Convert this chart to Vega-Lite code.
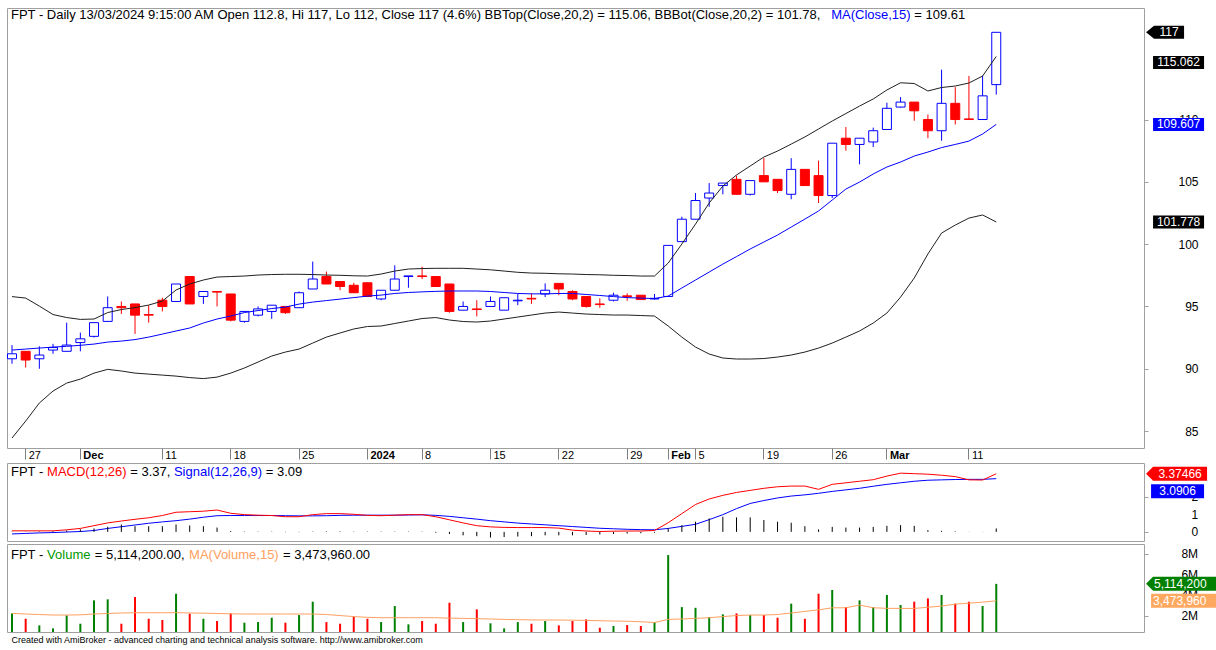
{
"$schema": "https://vega.github.io/schema/vega-lite/v6.json",
"background": "#ffffff",
"padding": {"left": 6, "top": 7, "right": 0, "bottom": 0},
"spacing": 1,
"config": {
  "view": {"stroke": "#a0a0a0", "strokeWidth": 1},
  "axis": {"labelFont": "Liberation Sans", "titleFont": "Liberation Sans", "labelColor": "#000000", "tickColor": "#a0a0a0", "domain": false, "grid": false, "labelOverlap": false},
  "text": {"font": "Liberation Sans"}
},
"datasets": {
"px": [
{"d":"2023-11-24","o":90.8,"h":91.9,"l":90.4,"c":91.2,"bt":95.79,"bb":84.44,"ma":91.5,"m":0.06,"s":-0.12,"hs":0.02,"v":2260000,"vm":2260000},
{"d":"2023-11-27","o":91.4,"h":91.4,"l":90.1,"c":90.7,"bt":95.67,"bb":85.8,"ma":91.58,"m":0.06,"s":-0.09,"hs":0.02,"v":1740000,"vm":2200000},
{"d":"2023-11-28","o":90.8,"h":91.8,"l":90.0,"c":91.1,"bt":95.03,"bb":87.25,"ma":91.66,"m":0.06,"s":-0.06,"hs":0.03,"v":1100000,"vm":2150000},
{"d":"2023-11-29","o":91.5,"h":92.0,"l":91.2,"c":91.7,"bt":94.35,"bb":88.21,"ma":91.74,"m":0.06,"s":-0.04,"hs":0.04,"v":810000,"vm":2100000},
{"d":"2023-11-30","o":91.4,"h":93.7,"l":91.4,"c":91.9,"bt":94.11,"bb":88.85,"ma":91.8,"m":0.12,"s":-0.01,"hs":0.08,"v":2070000,"vm":2100000},
{"d":"2023-12-01","o":92.1,"h":92.9,"l":91.4,"c":92.4,"bt":93.96,"bb":89.17,"ma":91.88,"m":0.2,"s":0.02,"hs":0.15,"v":1260000,"vm":2120000},
{"d":"2023-12-04","o":92.6,"h":93.7,"l":92.5,"c":93.7,"bt":93.99,"bb":89.65,"ma":91.98,"m":0.36,"s":0.08,"hs":0.2,"v":3520000,"vm":2200000},
{"d":"2023-12-05","o":93.8,"h":95.8,"l":93.8,"c":94.9,"bt":94.51,"bb":89.95,"ma":92.14,"m":0.52,"s":0.2,"hs":0.3,"v":3620000,"vm":2250000},
{"d":"2023-12-06","o":95.0,"h":95.4,"l":94.4,"c":94.9,"bt":94.75,"bb":89.82,"ma":92.22,"m":0.63,"s":0.3,"hs":0.43,"v":1260000,"vm":2300000},
{"d":"2023-12-07","o":95.2,"h":95.2,"l":92.8,"c":94.3,"bt":94.91,"bb":89.65,"ma":92.34,"m":0.73,"s":0.4,"hs":0.33,"v":3840000,"vm":2320000},
{"d":"2023-12-08","o":94.35,"h":95.1,"l":93.7,"c":94.3,"bt":95.11,"bb":89.57,"ma":92.54,"m":0.82,"s":0.5,"hs":0.33,"v":1740000,"vm":2320000},
{"d":"2023-12-11","o":95.5,"h":95.7,"l":94.6,"c":95.0,"bt":95.43,"bb":89.49,"ma":92.78,"m":0.95,"s":0.58,"hs":0.33,"v":1620000,"vm":2320000},
{"d":"2023-12-12","o":95.4,"h":96.8,"l":95.4,"c":96.8,"bt":96.32,"bb":89.41,"ma":93.03,"m":1.14,"s":0.65,"hs":0.43,"v":4160000,"vm":2330000},
{"d":"2023-12-13","o":97.4,"h":97.4,"l":95.2,"c":95.2,"bt":96.8,"bb":89.29,"ma":93.27,"m":1.17,"s":0.74,"hs":0.37,"v":2230000,"vm":2300000},
{"d":"2023-12-14","o":95.8,"h":96.2,"l":95.2,"c":96.2,"bt":97.12,"bb":89.21,"ma":93.67,"m":1.2,"s":0.85,"hs":0.33,"v":1740000,"vm":2280000},
{"d":"2023-12-15","o":96.2,"h":96.2,"l":95.0,"c":96.15,"bt":97.36,"bb":89.33,"ma":93.99,"m":1.27,"s":0.94,"hs":0.25,"v":1520000,"vm":2250000},
{"d":"2023-12-18","o":96.0,"h":96.0,"l":93.8,"c":93.9,"bt":97.4,"bb":89.65,"ma":94.23,"m":1.08,"s":0.95,"hs":0.05,"v":2260000,"vm":2220000},
{"d":"2023-12-19","o":93.8,"h":94.6,"l":93.7,"c":94.6,"bt":97.44,"bb":90.06,"ma":94.51,"m":1.0,"s":0.95,"hs":0.02,"v":1360000,"vm":2200000},
{"d":"2023-12-20","o":94.3,"h":95.0,"l":94.2,"c":94.8,"bt":97.52,"bb":90.54,"ma":94.67,"m":0.97,"s":0.95,"hs":0.02,"v":1420000,"vm":2200000},
{"d":"2023-12-21","o":94.6,"h":95.1,"l":94.0,"c":95.1,"bt":97.56,"bb":91.02,"ma":94.83,"m":0.95,"s":0.95,"hs":0.02,"v":1840000,"vm":2200000},
{"d":"2023-12-22","o":95.0,"h":95.0,"l":94.4,"c":94.5,"bt":97.58,"bb":91.34,"ma":94.95,"m":0.88,"s":0.94,"hs":-0.02,"v":1360000,"vm":2200000},
{"d":"2023-12-25","o":94.9,"h":96.2,"l":94.9,"c":96.1,"bt":97.58,"bb":91.58,"ma":95.19,"m":0.88,"s":0.93,"hs":-0.02,"v":2100000,"vm":2200000},
{"d":"2023-12-26","o":96.4,"h":98.6,"l":96.4,"c":97.2,"bt":97.56,"bb":92.06,"ma":95.35,"m":1.0,"s":0.93,"hs":0.02,"v":3390000,"vm":2200000},
{"d":"2023-12-27","o":97.4,"h":97.8,"l":96.8,"c":96.8,"bt":97.52,"bb":92.54,"ma":95.47,"m":1.06,"s":0.94,"hs":0.03,"v":1420000,"vm":2150000},
{"d":"2023-12-28","o":97.0,"h":97.0,"l":96.3,"c":96.6,"bt":97.5,"bb":92.87,"ma":95.59,"m":1.06,"s":0.96,"hs":0.03,"v":1260000,"vm":2050000},
{"d":"2023-12-29","o":96.7,"h":96.9,"l":96.1,"c":96.1,"bt":97.46,"bb":93.19,"ma":95.71,"m":1.02,"s":0.97,"hs":0.02,"v":1940000,"vm":1950000},
{"d":"2024-01-02","o":96.9,"h":96.9,"l":95.8,"c":95.8,"bt":97.44,"bb":93.39,"ma":95.83,"m":0.96,"s":0.97,"hs":0.02,"v":1740000,"vm":1880000},
{"d":"2024-01-03","o":95.6,"h":96.3,"l":95.5,"c":96.3,"bt":97.6,"bb":93.43,"ma":95.91,"m":0.94,"s":0.97,"hs":0.02,"v":1420000,"vm":1840000},
{"d":"2024-01-04","o":96.3,"h":98.3,"l":96.3,"c":97.2,"bt":97.84,"bb":93.63,"ma":96.04,"m":0.97,"s":0.97,"hs":0.02,"v":2970000,"vm":1840000},
{"d":"2024-01-05","o":97.4,"h":97.45,"l":96.5,"c":97.45,"bt":98.0,"bb":93.83,"ma":96.12,"m":1.0,"s":0.98,"hs":0.02,"v":1200000,"vm":1840000},
{"d":"2024-01-08","o":97.45,"h":98.2,"l":97.2,"c":97.4,"bt":98.04,"bb":94.03,"ma":96.17,"m":1.0,"s":0.99,"hs":0.02,"v":1520000,"vm":1840000},
{"d":"2024-01-09","o":97.4,"h":97.4,"l":96.6,"c":96.6,"bt":98.06,"bb":94.11,"ma":96.21,"m":0.88,"s":0.96,"hs":-0.05,"v":1260000,"vm":1840000},
{"d":"2024-01-10","o":96.8,"h":96.8,"l":94.5,"c":94.6,"bt":98.06,"bb":93.91,"ma":96.24,"m":0.7,"s":0.9,"hs":-0.12,"v":3290000,"vm":1800000},
{"d":"2024-01-11","o":94.7,"h":95.4,"l":94.7,"c":95.0,"bt":98.06,"bb":93.79,"ma":96.24,"m":0.52,"s":0.82,"hs":-0.2,"v":1420000,"vm":1780000},
{"d":"2024-01-12","o":94.8,"h":95.5,"l":94.2,"c":94.75,"bt":98.0,"bb":93.75,"ma":96.24,"m":0.36,"s":0.74,"hs":-0.25,"v":2650000,"vm":1750000},
{"d":"2024-01-15","o":95.0,"h":95.8,"l":95.0,"c":95.4,"bt":97.94,"bb":93.83,"ma":96.2,"m":0.29,"s":0.65,"hs":-0.33,"v":1300000,"vm":1720000},
{"d":"2024-01-16","o":94.7,"h":95.7,"l":94.7,"c":95.7,"bt":97.84,"bb":93.99,"ma":96.12,"m":0.26,"s":0.58,"hs":-0.3,"v":810000,"vm":1680000},
{"d":"2024-01-17","o":95.45,"h":96.0,"l":95.1,"c":95.5,"bt":97.74,"bb":94.15,"ma":96.04,"m":0.25,"s":0.51,"hs":-0.27,"v":1420000,"vm":1650000},
{"d":"2024-01-18","o":95.65,"h":96.05,"l":95.2,"c":95.6,"bt":97.68,"bb":94.31,"ma":96.01,"m":0.25,"s":0.46,"hs":-0.25,"v":1260000,"vm":1630000},
{"d":"2024-01-19","o":96.0,"h":96.85,"l":95.75,"c":96.3,"bt":97.66,"bb":94.47,"ma":96.01,"m":0.25,"s":0.41,"hs":-0.2,"v":1520000,"vm":1620000},
{"d":"2024-01-22","o":96.85,"h":96.85,"l":95.9,"c":96.4,"bt":97.62,"bb":94.55,"ma":96.04,"m":0.22,"s":0.36,"hs":-0.2,"v":1100000,"vm":1620000},
{"d":"2024-01-23","o":96.2,"h":96.3,"l":95.5,"c":95.6,"bt":97.6,"bb":94.47,"ma":96.04,"m":0.1,"s":0.31,"hs":-0.2,"v":1520000,"vm":1600000},
{"d":"2024-01-24","o":95.8,"h":95.8,"l":94.9,"c":95.0,"bt":97.56,"bb":94.39,"ma":95.96,"m":0.05,"s":0.26,"hs":-0.18,"v":1680000,"vm":1580000},
{"d":"2024-01-25","o":95.2,"h":95.65,"l":94.9,"c":95.15,"bt":97.54,"bb":94.35,"ma":95.88,"m":0.02,"s":0.21,"hs":-0.15,"v":870000,"vm":1550000},
{"d":"2024-01-26","o":95.5,"h":96.1,"l":95.4,"c":95.9,"bt":97.5,"bb":94.31,"ma":95.79,"m":0.04,"s":0.18,"hs":-0.12,"v":1040000,"vm":1520000},
{"d":"2024-01-29","o":95.85,"h":96.05,"l":95.45,"c":95.8,"bt":97.48,"bb":94.31,"ma":95.71,"m":0.05,"s":0.15,"hs":-0.1,"v":1130000,"vm":1500000},
{"d":"2024-01-30","o":95.9,"h":95.9,"l":95.55,"c":95.55,"bt":97.44,"bb":94.27,"ma":95.67,"m":0.05,"s":0.13,"hs":-0.08,"v":1040000,"vm":1450000},
{"d":"2024-01-31","o":95.6,"h":96.0,"l":95.55,"c":95.65,"bt":97.44,"bb":94.23,"ma":95.63,"m":0.08,"s":0.12,"hs":-0.05,"v":1420000,"vm":1380000},
{"d":"2024-02-01","o":95.8,"h":99.9,"l":95.8,"c":99.9,"bt":98.48,"bb":93.43,"ma":95.83,"m":0.53,"s":0.2,"hs":0.2,"v":7900000,"vm":1680000},
{"d":"2024-02-02","o":100.2,"h":102.2,"l":100.2,"c":102.0,"bt":100.01,"bb":92.54,"ma":96.48,"m":1.06,"s":0.32,"hs":0.39,"v":2870000,"vm":1720000},
{"d":"2024-02-05","o":102.0,"h":104.1,"l":102.0,"c":103.5,"bt":101.61,"bb":91.74,"ma":97.12,"m":1.59,"s":0.44,"hs":0.59,"v":2800000,"vm":1780000},
{"d":"2024-02-06","o":103.7,"h":104.9,"l":103.0,"c":104.1,"bt":103.3,"bb":91.18,"ma":97.76,"m":1.91,"s":0.71,"hs":0.78,"v":1900000,"vm":1840000},
{"d":"2024-02-07","o":104.7,"h":104.9,"l":104.0,"c":104.9,"bt":104.66,"bb":90.86,"ma":98.4,"m":2.12,"s":1.0,"hs":0.88,"v":2170000,"vm":1950000},
{"d":"2024-02-15","o":105.2,"h":105.5,"l":104.0,"c":104.0,"bt":105.55,"bb":90.78,"ma":99.0,"m":2.29,"s":1.35,"hs":0.84,"v":2260000,"vm":2050000},
{"d":"2024-02-16","o":104.0,"h":105.1,"l":103.9,"c":105.1,"bt":106.27,"bb":90.78,"ma":99.61,"m":2.41,"s":1.65,"hs":0.84,"v":2100000,"vm":2100000},
{"d":"2024-02-19","o":105.5,"h":106.9,"l":105.0,"c":105.0,"bt":106.99,"bb":90.82,"ma":100.17,"m":2.53,"s":1.82,"hs":0.69,"v":2100000,"vm":2100000},
{"d":"2024-02-20","o":105.2,"h":105.2,"l":104.1,"c":104.3,"bt":107.47,"bb":90.94,"ma":100.73,"m":2.62,"s":1.97,"hs":0.59,"v":1840000,"vm":2150000},
{"d":"2024-02-21","o":104.0,"h":106.9,"l":103.6,"c":106.0,"bt":108.03,"bb":91.1,"ma":101.37,"m":2.66,"s":2.08,"hs":0.53,"v":3200000,"vm":2300000},
{"d":"2024-02-22","o":106.0,"h":106.0,"l":104.7,"c":104.7,"bt":108.6,"bb":91.34,"ma":102.01,"m":2.66,"s":2.15,"hs":0.33,"v":1740000,"vm":2450000},
{"d":"2024-02-23","o":105.5,"h":106.7,"l":103.3,"c":103.9,"bt":109.24,"bb":91.66,"ma":102.66,"m":2.47,"s":2.24,"hs":0.14,"v":4160000,"vm":2600000},
{"d":"2024-02-26","o":103.9,"h":108.1,"l":103.7,"c":108.1,"bt":109.88,"bb":92.06,"ma":103.54,"m":2.76,"s":2.35,"hs":0.29,"v":4520000,"vm":2800000},
{"d":"2024-02-27","o":108.5,"h":109.4,"l":107.5,"c":108.0,"bt":110.48,"bb":92.54,"ma":104.42,"m":2.85,"s":2.44,"hs":0.25,"v":2870000,"vm":2800000},
{"d":"2024-02-28","o":108.0,"h":108.5,"l":106.4,"c":108.5,"bt":111.08,"bb":93.03,"ma":104.98,"m":2.94,"s":2.53,"hs":0.25,"v":3520000,"vm":3070000},
{"d":"2024-02-29","o":108.2,"h":109.35,"l":107.8,"c":109.1,"bt":111.65,"bb":93.67,"ma":105.63,"m":3.03,"s":2.65,"hs":0.29,"v":2870000,"vm":2800000},
{"d":"2024-03-01","o":109.2,"h":111.35,"l":109.2,"c":110.9,"bt":112.37,"bb":94.47,"ma":106.19,"m":3.24,"s":2.76,"hs":0.35,"v":4040000,"vm":2750000},
{"d":"2024-03-04","o":111.0,"h":111.8,"l":110.95,"c":111.4,"bt":112.95,"bb":95.75,"ma":106.59,"m":3.41,"s":2.85,"hs":0.39,"v":3070000,"vm":2740000},
{"d":"2024-03-05","o":111.4,"h":111.4,"l":109.9,"c":110.7,"bt":112.89,"bb":97.28,"ma":107.07,"m":3.38,"s":2.94,"hs":0.35,"v":3390000,"vm":2740000},
{"d":"2024-03-06","o":110.0,"h":110.4,"l":108.5,"c":109.1,"bt":112.29,"bb":99.21,"ma":107.39,"m":3.35,"s":3.0,"hs":0.1,"v":3710000,"vm":2850000},
{"d":"2024-03-07","o":109.1,"h":114.0,"l":108.3,"c":111.3,"bt":112.57,"bb":100.89,"ma":107.75,"m":3.29,"s":3.02,"hs":0.06,"v":4040000,"vm":2970000},
{"d":"2024-03-08","o":111.3,"h":112.6,"l":109.6,"c":110.0,"bt":112.69,"bb":101.53,"ma":108.0,"m":3.21,"s":3.04,"hs":0.03,"v":3200000,"vm":3150000},
{"d":"2024-03-11","o":110.05,"h":113.5,"l":110.0,"c":110.0,"bt":112.93,"bb":102.09,"ma":108.27,"m":3.02,"s":3.05,"hs":-0.01,"v":3390000,"vm":3250000},
{"d":"2024-03-12","o":110.0,"h":113.5,"l":110.0,"c":111.9,"bt":113.49,"bb":102.34,"ma":108.84,"m":3.01,"s":3.05,"hs":-0.01,"v":2970000,"vm":3350000},
{"d":"2024-03-13","o":112.8,"h":117.0,"l":112.0,"c":117.0,"bt":115.062,"bb":101.778,"ma":109.607,"m":3.37466,"s":3.0906,"hs":0.2,"v":5114200,"vm":3473960}
]
},
"vconcat": [
{
  "width": 1137, "height": 440,
  "data": {"name": "px"},
  "encoding": {
    "x": {"field": "d", "type": "ordinal",
      "scale": {"type": "band", "range": [-1.84, 996.1], "paddingInner": 0, "paddingOuter": 0},
      "axis": {"orient": "bottom", "title": null, "bandPosition": 0.5,
        "values": ["2023-11-27","2023-12-01","2023-12-11","2023-12-18","2023-12-25","2024-01-02","2024-01-08","2024-01-15","2024-01-22","2024-01-29","2024-02-01","2024-02-05","2024-02-19","2024-02-26","2024-03-01","2024-03-11"],
        "labelExpr": "['27','Dec','11','18','25','2024','8','15','22','29','Feb','5','19','26','Mar','11'][indexof(['2023-11-27','2023-12-01','2023-12-11','2023-12-18','2023-12-25','2024-01-02','2024-01-08','2024-01-15','2024-01-22','2024-01-29','2024-02-01','2024-02-05','2024-02-19','2024-02-26','2024-03-01','2024-03-11'], datum.value)]",
        "labelFontWeight": {"condition": {"test": "indexof(['2023-12-01','2024-01-02','2024-02-01','2024-03-01'], datum.value) >= 0", "value": "bold"}, "value": "normal"},
        "tickSize": 11, "tickColor": "#808080", "labelAlign": "left", "labelBaseline": "top", "labelPadding": -10, "labelOffset": 3,
        "labelFontSize": 11, "labelOverlap": false, "labelBound": false, "labelAngle": 0}
    }
  },
  "layer": [
    {"mark": {"type": "rule", "strokeWidth": 1},
     "encoding": {
       "y": {"field": "l", "type": "quantitative", "title": null, "scale": {"domain": [83.64, 118.95], "nice": false, "zero": false},
         "axis": {"orient": "right", "values": [85,90,95,100,105,110], "tickSize": 4, "labelAlign": "right", "labelPadding": 50, "labelFontSize": 12, "labelBaseline": "middle", "labelOverlap": false, "title": null}},
       "y2": {"field": "h"},
       "color": {"condition": {"test": "datum.c >= datum.o", "value": "#0000ff"}, "value": "#ff0000"}
     }},
    {"mark": {"type": "bar", "width": 9, "strokeWidth": 1},
     "encoding": {
       "y": {"field": "o", "type": "quantitative", "title": null, "scale": {"domain": [83.64, 118.95], "nice": false, "zero": false}},
       "y2": {"field": "c"},
       "fill": {"condition": {"test": "datum.c >= datum.o", "value": "#ffffff"}, "value": "#ff0000"},
       "stroke": {"condition": {"test": "datum.c >= datum.o", "value": "#0000ff"}, "value": "#ff0000"}
     }},
    {"mark": {"type": "line", "color": "#202020", "strokeWidth": 1},
     "encoding": {"y": {"field": "bt", "type": "quantitative", "title": null, "scale": {"domain": [83.64, 118.95], "nice": false, "zero": false}}}},
    {"mark": {"type": "line", "color": "#202020", "strokeWidth": 1},
     "encoding": {"y": {"field": "bb", "type": "quantitative", "title": null, "scale": {"domain": [83.64, 118.95], "nice": false, "zero": false}}}},
    {"mark": {"type": "line", "color": "#0000ff", "strokeWidth": 1},
     "encoding": {"y": {"field": "ma", "type": "quantitative", "title": null, "scale": {"domain": [83.64, 118.95], "nice": false, "zero": false}}}},
    {"data": {"values": [{"t": "FPT - Daily 13/03/2024 9:15:00 AM Open 112.8, Hi 117, Lo 112, Close 117 (4.6%) BBTop(Close,20,2) = 115.06, BBBot(Close,20,2) = 101.78,"}]},
     "mark": {"type": "text", "align": "left", "baseline": "top", "dx": -1, "dy": 1, "fontSize": 13, "color": "#000000"},
     "encoding": {"x": {"datum": "2023-11-24", "type": "ordinal"}, "y": {"datum": 118.95, "type": "quantitative"}, "text": {"field": "t"}}},
    {"data": {"values": [{"t": "MA(Close,15)"}]},
     "mark": {"type": "text", "align": "left", "baseline": "top", "dx": 819.2, "dy": 1, "fontSize": 13, "color": "#0000ff"},
     "encoding": {"x": {"datum": "2023-11-24", "type": "ordinal"}, "y": {"datum": 118.95, "type": "quantitative"}, "text": {"field": "t"}}},
    {"data": {"values": [{"t": "= 109.61"}]},
     "mark": {"type": "text", "align": "left", "baseline": "top", "dx": 902.3, "dy": 1, "fontSize": 13, "color": "#000000"},
     "encoding": {"x": {"datum": "2023-11-24", "type": "ordinal"}, "y": {"datum": 118.95, "type": "quantitative"}, "text": {"field": "t"}}},
    {"data": {"values": [{"v": 117, "t": "117"}]},
     "mark": {"type": "point", "shape": "M-1,0L-0.58,-0.34L1,-0.34L1,0.34L-0.58,0.34Z", "size": 1444, "filled": true, "fill": "#000000", "opacity": 1, "strokeWidth": 0, "xOffset": 168.8},
     "encoding": {"x": {"datum": "2024-03-13", "type": "ordinal"}, "y": {"field": "v", "type": "quantitative"}}},
    {"data": {"values": [{"v": 117, "t": "117"}]},
     "mark": {"type": "text", "align": "center", "baseline": "middle", "dx": 172.8, "fontSize": 12, "color": "#ffffff"},
     "encoding": {"x": {"datum": "2024-03-13", "type": "ordinal"}, "y": {"field": "v", "type": "quantitative"}, "text": {"field": "t"}}},
    {"data": {"values": [{"v": 115.062, "t": "115.062"}]},
     "mark": {"type": "point", "shape": "M-1,-0.255L1,-0.255L1,0.255L-1,0.255Z", "size": 2601, "filled": true, "fill": "#000000", "opacity": 1, "strokeWidth": 0, "xOffset": 182.3, "yOffset": 6},
     "encoding": {"x": {"datum": "2024-03-13", "type": "ordinal"}, "y": {"field": "v", "type": "quantitative"}}},
    {"data": {"values": [{"v": 115.062, "t": "115.062"}]},
     "mark": {"type": "text", "align": "center", "baseline": "middle", "dx": 182.3, "dy": 6, "fontSize": 12, "color": "#ffffff"},
     "encoding": {"x": {"datum": "2024-03-13", "type": "ordinal"}, "y": {"field": "v", "type": "quantitative"}, "text": {"field": "t"}}},
    {"data": {"values": [{"v": 101.778, "t": "101.778"}]},
     "mark": {"type": "point", "shape": "M-1,-0.255L1,-0.255L1,0.255L-1,0.255Z", "size": 2601, "filled": true, "fill": "#000000", "opacity": 1, "strokeWidth": 0, "xOffset": 182.3},
     "encoding": {"x": {"datum": "2024-03-13", "type": "ordinal"}, "y": {"field": "v", "type": "quantitative"}}},
    {"data": {"values": [{"v": 101.778, "t": "101.778"}]},
     "mark": {"type": "text", "align": "center", "baseline": "middle", "dx": 182.3, "fontSize": 12, "color": "#ffffff"},
     "encoding": {"x": {"datum": "2024-03-13", "type": "ordinal"}, "y": {"field": "v", "type": "quantitative"}, "text": {"field": "t"}}},
    {"data": {"values": [{"v": 109.607, "t": "109.607"}]},
     "mark": {"type": "point", "shape": "M-1,-0.255L1,-0.255L1,0.255L-1,0.255Z", "size": 2601, "filled": true, "fill": "#0000ff", "opacity": 1, "strokeWidth": 0, "xOffset": 182.3},
     "encoding": {"x": {"datum": "2024-03-13", "type": "ordinal"}, "y": {"field": "v", "type": "quantitative"}}},
    {"data": {"values": [{"v": 109.607, "t": "109.607"}]},
     "mark": {"type": "text", "align": "center", "baseline": "middle", "dx": 182.3, "fontSize": 12, "color": "#ffffff"},
     "encoding": {"x": {"datum": "2024-03-13", "type": "ordinal"}, "y": {"field": "v", "type": "quantitative"}, "text": {"field": "t"}}}
  ]
},
{
  "width": 1137, "height": 78,
  "data": {"name": "px"},
  "encoding": {
    "x": {"field": "d", "type": "ordinal",
      "scale": {"type": "band", "range": [-1.84, 996.1], "paddingInner": 0, "paddingOuter": 0}, "axis": null}
  },
  "layer": [
    {"mark": {"type": "line", "color": "#0000ff", "strokeWidth": 1},
     "encoding": {"y": {"field": "s", "type": "quantitative", "title": null, "scale": {"domain": [-0.53, 4.0], "nice": false, "zero": false},
         "axis": {"orient": "right", "values": [0, 1, 2], "labels": false, "tickSize": 4, "title": null}}}},
    {"mark": {"type": "rule", "color": "#000000", "strokeWidth": 1},
     "encoding": {
       "y": {"field": "hs", "type": "quantitative", "title": null, "scale": {"domain": [-0.53, 4.0], "nice": false, "zero": false}},
       "y2": {"datum": 0}
     }},
    {"mark": {"type": "line", "color": "#ff0000", "strokeWidth": 1},
     "encoding": {"y": {"field": "m", "type": "quantitative", "title": null, "scale": {"domain": [-0.53, 4.0], "nice": false, "zero": false}}}},
    {"data": {"values": [{"v": 0, "t": "0"}, {"v": 1, "t": "1"}, {"v": 2, "t": "2"}]},
     "mark": {"type": "text", "align": "right", "baseline": "middle", "dx": 201.8, "fontSize": 12, "color": "#000000"},
     "encoding": {"x": {"datum": "2024-03-13", "type": "ordinal"}, "y": {"field": "v", "type": "quantitative"}, "text": {"field": "t"}}},
    {"data": {"values": [{"t": "FPT -"}]},
     "mark": {"type": "text", "align": "left", "baseline": "top", "dx": -1, "dy": 3, "fontSize": 13, "color": "#000000"},
     "encoding": {"x": {"datum": "2023-11-24", "type": "ordinal"}, "y": {"datum": 4.0, "type": "quantitative"}, "text": {"field": "t"}}},
    {"data": {"values": [{"t": "MACD(12,26)"}]},
     "mark": {"type": "text", "align": "left", "baseline": "top", "dx": 35.1, "dy": 3, "fontSize": 13, "color": "#ff0000"},
     "encoding": {"x": {"datum": "2023-11-24", "type": "ordinal"}, "y": {"datum": 4.0, "type": "quantitative"}, "text": {"field": "t"}}},
    {"data": {"values": [{"t": "= 3.37,"}]},
     "mark": {"type": "text", "align": "left", "baseline": "top", "dx": 118.2, "dy": 3, "fontSize": 13, "color": "#000000"},
     "encoding": {"x": {"datum": "2023-11-24", "type": "ordinal"}, "y": {"datum": 4.0, "type": "quantitative"}, "text": {"field": "t"}}},
    {"data": {"values": [{"t": "Signal(12,26,9)"}]},
     "mark": {"type": "text", "align": "left", "baseline": "top", "dx": 161.9, "dy": 3, "fontSize": 13, "color": "#0000ff"},
     "encoding": {"x": {"datum": "2023-11-24", "type": "ordinal"}, "y": {"datum": 4.0, "type": "quantitative"}, "text": {"field": "t"}}},
    {"data": {"values": [{"t": "= 3.09"}]},
     "mark": {"type": "text", "align": "left", "baseline": "top", "dx": 253.7, "dy": 3, "fontSize": 13, "color": "#000000"},
     "encoding": {"x": {"datum": "2023-11-24", "type": "ordinal"}, "y": {"datum": 4.0, "type": "quantitative"}, "text": {"field": "t"}}},
    {"data": {"values": [{"v": 3.37466, "t": "3.37466"}]},
     "mark": {"type": "point", "shape": "M-1,0L-0.77,-0.23L1,-0.23L1,0.23L-0.77,0.23Z", "size": 3721, "filled": true, "fill": "#ff0000", "opacity": 1, "strokeWidth": 0, "xOffset": 180.3},
     "encoding": {"x": {"datum": "2024-03-13", "type": "ordinal"}, "y": {"field": "v", "type": "quantitative"}}},
    {"data": {"values": [{"v": 3.37466, "t": "3.37466"}]},
     "mark": {"type": "text", "align": "center", "baseline": "middle", "dx": 183.8, "fontSize": 12, "color": "#ffffff"},
     "encoding": {"x": {"datum": "2024-03-13", "type": "ordinal"}, "y": {"field": "v", "type": "quantitative"}, "text": {"field": "t"}}},
    {"data": {"values": [{"v": 3.0906, "t": "3.0906"}]},
     "mark": {"type": "point", "shape": "M-1,-0.264L1,-0.264L1,0.264L-1,0.264Z", "size": 2809, "filled": true, "fill": "#0000ff", "opacity": 1, "strokeWidth": 0, "xOffset": 181.3, "yOffset": 12.5},
     "encoding": {"x": {"datum": "2024-03-13", "type": "ordinal"}, "y": {"field": "v", "type": "quantitative"}}},
    {"data": {"values": [{"v": 3.0906, "t": "3.0906"}]},
     "mark": {"type": "text", "align": "center", "baseline": "middle", "dx": 181.3, "dy": 12.5, "fontSize": 12, "color": "#ffffff"},
     "encoding": {"x": {"datum": "2024-03-13", "type": "ordinal"}, "y": {"field": "v", "type": "quantitative"}, "text": {"field": "t"}}}
  ]
},
{
  "width": 1137, "height": 88,
  "data": {"name": "px"},
  "encoding": {
    "x": {"field": "d", "type": "ordinal",
      "scale": {"type": "band", "range": [-1.84, 996.1], "paddingInner": 0, "paddingOuter": 0},
      "axis": {"orient": "bottom", "labels": false, "ticks": false, "domain": false,
        "title": "Created with AmiBroker - advanced charting and technical analysis software. http://www.amibroker.com",
        "titleFontSize": 9, "titleFontWeight": "normal", "titleColor": "#000000", "titleAlign": "left", "titleAnchor": "start", "titleX": 4, "titlePadding": 3}}
  },
  "layer": [
    {"mark": {"type": "bar", "width": 2, "clip": true},
     "encoding": {
       "y": {"field": "v", "type": "quantitative", "title": null, "scale": {"domain": [460000, 8970000], "nice": false, "zero": false},
         "axis": {"orient": "right", "values": [2000000, 4000000, 6000000, 8000000], "labels": false, "tickSize": 4, "title": null}},
       "y2": {"datum": 0},
       "color": {"condition": {"test": "datum.c >= datum.o", "value": "#008000"}, "value": "#ff0000"}
     }},
    {"mark": {"type": "line", "color": "#ffa060", "strokeWidth": 1},
     "encoding": {"y": {"field": "vm", "type": "quantitative", "title": null, "scale": {"domain": [460000, 8970000], "nice": false, "zero": false}}}},
    {"data": {"values": [{"v": 2000000, "t": "2M"}, {"v": 4000000, "t": "4M"}, {"v": 6000000, "t": "6M"}, {"v": 8000000, "t": "8M"}]},
     "mark": {"type": "text", "align": "right", "baseline": "middle", "dx": 201.8, "fontSize": 12, "color": "#000000"},
     "encoding": {"x": {"datum": "2024-03-13", "type": "ordinal"}, "y": {"field": "v", "type": "quantitative"}, "text": {"field": "t"}}},
    {"data": {"values": [{"t": "FPT -"}]},
     "mark": {"type": "text", "align": "left", "baseline": "top", "dx": -1, "dy": 5, "fontSize": 13, "color": "#000000"},
     "encoding": {"x": {"datum": "2023-11-24", "type": "ordinal"}, "y": {"datum": 8970000, "type": "quantitative"}, "text": {"field": "t"}}},
    {"data": {"values": [{"t": "Volume"}]},
     "mark": {"type": "text", "align": "left", "baseline": "top", "dx": 35.1, "dy": 5, "fontSize": 13, "color": "#009900"},
     "encoding": {"x": {"datum": "2023-11-24", "type": "ordinal"}, "y": {"datum": 8970000, "type": "quantitative"}, "text": {"field": "t"}}},
    {"data": {"values": [{"t": "= 5,114,200.00,"}]},
     "mark": {"type": "text", "align": "left", "baseline": "top", "dx": 82.8, "dy": 5, "fontSize": 13, "color": "#000000"},
     "encoding": {"x": {"datum": "2023-11-24", "type": "ordinal"}, "y": {"datum": 8970000, "type": "quantitative"}, "text": {"field": "t"}}},
    {"data": {"values": [{"t": "MA(Volume,15)"}]},
     "mark": {"type": "text", "align": "left", "baseline": "top", "dx": 177.1, "dy": 5, "fontSize": 13, "color": "#ffa060"},
     "encoding": {"x": {"datum": "2023-11-24", "type": "ordinal"}, "y": {"datum": 8970000, "type": "quantitative"}, "text": {"field": "t"}}},
    {"data": {"values": [{"t": "= 3,473,960.00"}]},
     "mark": {"type": "text", "align": "left", "baseline": "top", "dx": 271, "dy": 5, "fontSize": 13, "color": "#000000"},
     "encoding": {"x": {"datum": "2023-11-24", "type": "ordinal"}, "y": {"datum": 8970000, "type": "quantitative"}, "text": {"field": "t"}}},
    {"data": {"values": [{"v": 5114200, "t": "5,114,200"}]},
     "mark": {"type": "point", "shape": "M-1,0L-0.8,-0.2L1,-0.2L1,0.2L-0.8,0.2Z", "size": 4900, "filled": true, "fill": "#008000", "opacity": 1, "strokeWidth": 0, "xOffset": 184.8},
     "encoding": {"x": {"datum": "2024-03-13", "type": "ordinal"}, "y": {"field": "v", "type": "quantitative"}}},
    {"data": {"values": [{"v": 5114200, "t": "5,114,200"}]},
     "mark": {"type": "text", "align": "left", "baseline": "middle", "dx": 157.8, "fontSize": 12, "color": "#ffffff"},
     "encoding": {"x": {"datum": "2024-03-13", "type": "ordinal"}, "y": {"field": "v", "type": "quantitative"}, "text": {"field": "t"}}},
    {"data": {"values": [{"v": 3473960, "t": "3,473,960"}]},
     "mark": {"type": "point", "shape": "M-1,-0.215L1,-0.215L1,0.215L-1,0.215Z", "size": 4225, "filled": true, "fill": "#ffa860", "opacity": 1, "strokeWidth": 0, "xOffset": 187.3},
     "encoding": {"x": {"datum": "2024-03-13", "type": "ordinal"}, "y": {"field": "v", "type": "quantitative"}}},
    {"data": {"values": [{"v": 3473960, "t": "3,473,960"}]},
     "mark": {"type": "text", "align": "left", "baseline": "middle", "dx": 156.8, "fontSize": 12, "color": "#ffffff"},
     "encoding": {"x": {"datum": "2024-03-13", "type": "ordinal"}, "y": {"field": "v", "type": "quantitative"}, "text": {"field": "t"}}}
  ]
}
]
}
